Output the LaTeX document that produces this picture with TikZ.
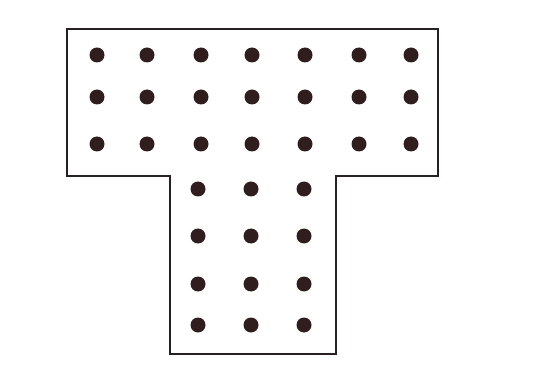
\documentclass[tikz,border=0pt]{standalone}
\usepackage{tikz}
\definecolor{pegdark}{RGB}{48,30,30}
\definecolor{outline}{RGB}{40,32,32}
\begin{document}
\begin{tikzpicture}[x=0.03cm,y=-0.03cm,
  board/.style={draw=outline,line width=2.2pt,line join=miter},
  peg/.style={fill=pegdark}]
\useasboundingbox (0,0) rectangle (534,373);
% T-shaped board
\draw[board] (67,29) -- (438,29) -- (438,176) -- (336,176) -- (336,354)
  -- (170,354) -- (170,176) -- (67,176) -- cycle;
% pegs in the top bar
\foreach \y in {55,97,144}
  \foreach \x in {97,147,201,252,305,359,411}
    \fill[peg] (\x,\y) circle (7.5);
% pegs in the stem
\foreach \y in {189,236,284,325}
  \foreach \x in {198,251,304}
    \fill[peg] (\x,\y) circle (7.5);
\end{tikzpicture}
\end{document}
